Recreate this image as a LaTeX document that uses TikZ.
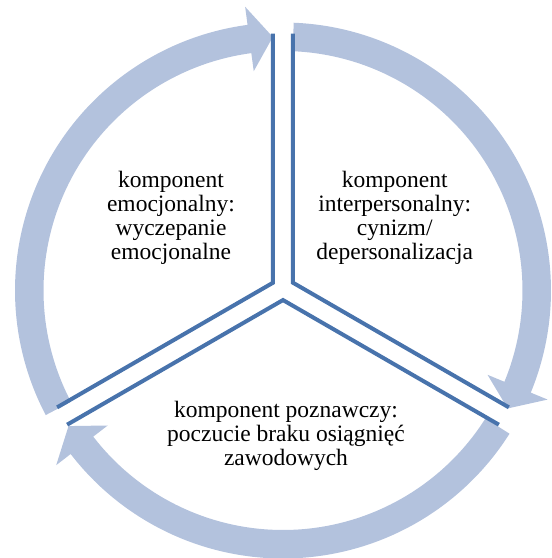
\documentclass[tikz,border=0pt]{standalone}
\usepackage{fontspec}
\setmainfont{Liberation Serif}
\definecolor{bandblue}{HTML}{B3C2DD}
\definecolor{lineblue}{HTML}{4873AC}

\begin{document}
\begin{tikzpicture}[x=1pt,y=1pt,line join=miter,
  band/.style={fill=bandblue,draw=none},
  divider/.style={draw=lineblue,line width=4pt},
  label text/.style={align=center,inner sep=0pt,font=\fontsize{23.5}{24.2}\selectfont}]
\useasboundingbox (-283,-267.5) rectangle (269,290.5);
%% arrows round the cycle
\fill [band] (207.7:239.5) arc[start angle=207.7,end angle=97.6,radius=239.5] -- (97.6:221.25) -- (92.3:253.75) -- (97.6:286.25) -- (97.6:268) arc[start angle=97.6,end angle=207.7,radius=268] -- cycle;
\fill [band] (87.7:239.5) arc[start angle=87.7,end angle=-22.4,radius=239.5] -- (-22.4:221.25) -- (-27.7:253.75) -- (-22.4:286.25) -- (-22.4:268) arc[start angle=-22.4,end angle=87.7,radius=268] -- cycle;
\fill [band] (-32.3:239.5) arc[start angle=-32.3,end angle=-142.4,radius=239.5] -- (-142.4:221.25) -- (-147.7:253.75) -- (-142.4:286.25) -- (-142.4:268) arc[start angle=-142.4,end angle=-32.3,radius=268] -- cycle;
%% dividing lines
\coordinate (left_top) at (-10,257);
\coordinate (left_mid) at (-10,7.77);
\coordinate (left_low) at (-225.84,-116.84);
\coordinate (right_top) at (10,257);
\coordinate (right_mid) at (10,7.77);
\coordinate (right_low) at (225.84,-116.84);
\coordinate (bottom_left) at (-215.84,-134.16);
\coordinate (bottom_mid) at (0,-9.55);
\coordinate (bottom_right) at (215.84,-134.16);
\draw [divider] (left_top) -- (left_mid) -- (left_low);
\draw [divider] (right_top) -- (right_mid) -- (right_low);
\draw [divider] (bottom_left) -- (bottom_mid) -- (bottom_right);
%% labels
\node (txt_emo) at (-112,72.5) [label text] {komponent\\emocjonalny:\\wyczepanie\\emocjonalne};
\node (txt_inter) at (111.7,72.5) [label text] {komponent\\interpersonalny:\\cynizm/\\depersonalizacja};
\node (txt_pozn) at (3,-145.25) [label text] {komponent poznawczy:\\poczucie braku osiągnięć\\zawodowych};
%
\end{tikzpicture}
\end{document}
